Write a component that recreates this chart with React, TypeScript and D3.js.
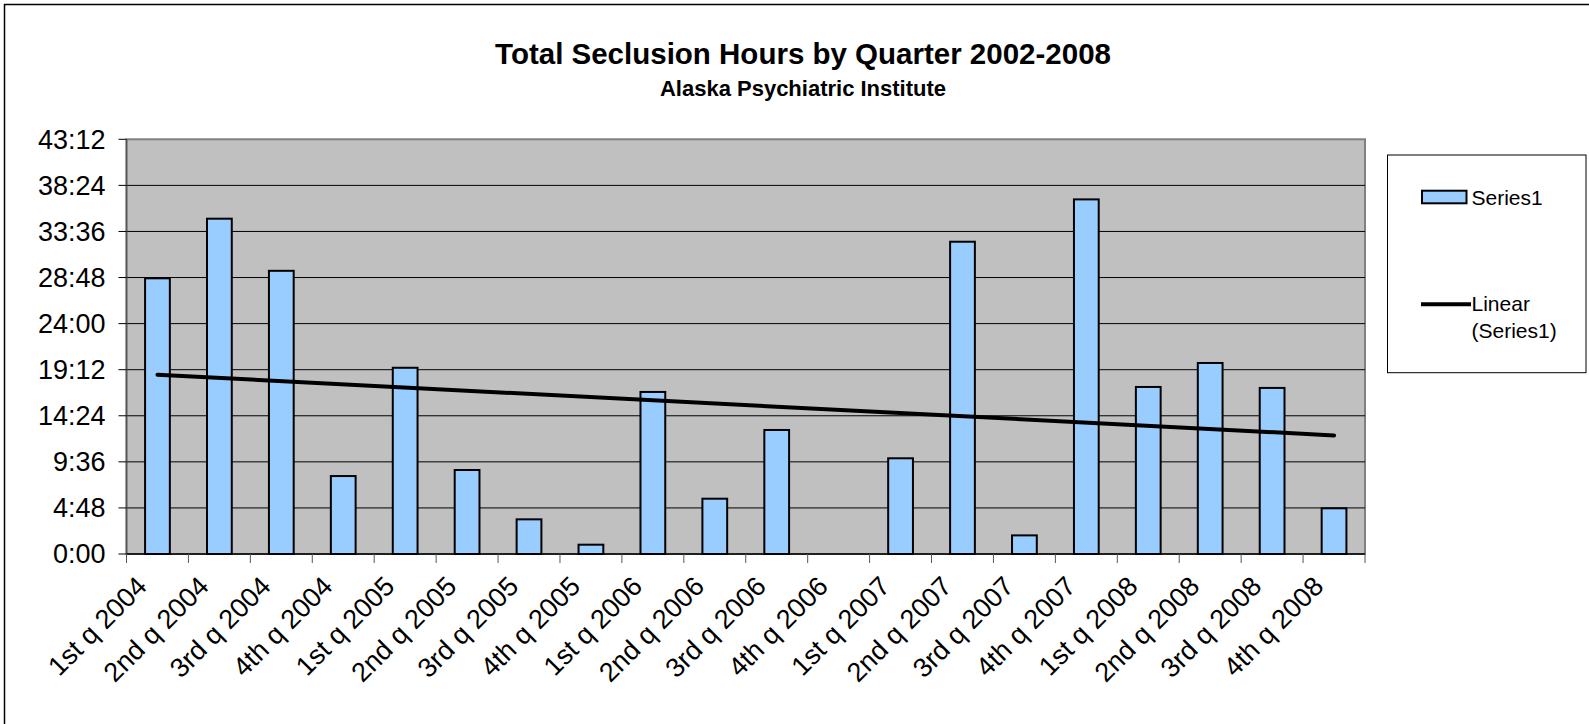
import React from "react";
import * as d3 from "d3";

const categories = [
  "1st q 2004", "2nd q 2004", "3rd q 2004", "4th q 2004",
  "1st q 2005", "2nd q 2005", "3rd q 2005", "4th q 2005",
  "1st q 2006", "2nd q 2006", "3rd q 2006", "4th q 2006",
  "1st q 2007", "2nd q 2007", "3rd q 2007", "4th q 2007",
  "1st q 2008", "2nd q 2008", "3rd q 2008", "4th q 2008",
];
// total seclusion hours (decimal hours)
const hours = [
  28.72, 34.93, 29.5, 8.12,
  19.4, 8.75, 3.61, 0.97,
  16.88, 5.76, 12.92, 0,
  9.97, 32.53, 1.94, 36.94,
  17.4, 19.9, 17.3, 4.76,
];
const yTickValues = [0, 4.8, 9.6, 14.4, 19.2, 24, 28.8, 33.6, 38.4, 43.2];
const yTickLabels = ["0:00", "4:48", "9:36", "14:24", "19:12", "24:00", "28:48", "33:36", "38:24", "43:12"];

const title = "Total Seclusion Hours by Quarter 2002-2008";
const subtitle = "Alaska Psychiatric Institute";
const legendSeries = "Series1";
const legendTrend = ["Linear", "(Series1)"];

const W = 1589;
const H = 724;
const FONT = "Arial, 'Liberation Sans', Helvetica, sans-serif";

export default function App() {
  const left = 126.5, right = 1365, top = 139.3, bottom = 554;
  const x = d3.scaleBand<string>().domain(categories).range([left, right]).paddingInner(0.6).paddingOuter(0.3);
  const y = d3.scaleLinear().domain([0, 43.2]).range([bottom, top]);
  const step = x.step();

  // linear regression trend
  const n = hours.length;
  const xs = d3.range(1, n + 1);
  const mx = d3.mean(xs)!;
  const my = d3.mean(hours)!;
  const sxy = d3.sum(xs, (v, i) => (v - mx) * (hours[i] - my));
  const sxx = d3.sum(xs, (v) => (v - mx) * (v - mx));
  const slope = sxy / sxx;
  const icpt = my - slope * mx;
  const trendPts: [number, number][] = [1, n].map((k) => [
    x(categories[k - 1])! + x.bandwidth() / 2,
    y(icpt + slope * k),
  ]);
  const line = d3.line();

  return (
    <div style={{ position: "absolute", left: 0, top: 0 }}>
      <svg width={W} height={H} style={{ display: "block", fontFamily: FONT }}>
        <rect x={0} y={0} width={W} height={H} fill="#fff" />
        <rect x={4.5} y={4.5} width={W + 20} height={H + 20} fill="#fff" stroke="#000" strokeWidth={1.5} />

        <text x={803} y={64} textAnchor="middle" fontSize={29.5} fontWeight="bold" fill="#000">{title}</text>
        <text x={803} y={96} textAnchor="middle" fontSize={22} fontWeight="bold" fill="#000">{subtitle}</text>

        {/* plot area */}
        <rect x={left} y={top} width={right - left} height={bottom - top} fill="#C0C0C0" stroke="#808080" strokeWidth={2} />
        {yTickValues.slice(1, -1).map((v) => (
          <line key={v} x1={left} x2={right} y1={y(v)} y2={y(v)} stroke="#000" strokeWidth={1} />
        ))}

        {/* bars */}
        {hours.map((v, i) => (
          v > 0 ? (
            <rect key={i} x={x(categories[i])!} y={y(v)} width={x.bandwidth()} height={y(0) - y(v)}
              fill="#99CCFF" stroke="#000" strokeWidth={2} />
          ) : null
        ))}

        {/* trend */}
        <path d={line(trendPts)!} fill="none" stroke="#000" strokeWidth={4} strokeLinecap="round" />

        {/* axes */}
        <line x1={left} x2={left} y1={top} y2={bottom} stroke="#555" strokeWidth={1.5} />
        <line x1={left} x2={right} y1={bottom} y2={bottom} stroke="#000" strokeWidth={1.5} />
        {yTickValues.map((v, i) => (
          <g key={v}>
            <line x1={left - 8} x2={left} y1={y(v)} y2={y(v)} stroke="#000" strokeWidth={1} />
            <text x={105.5} y={y(v)} dy="0.35em" textAnchor="end" fontSize={27} fill="#000">{yTickLabels[i]}</text>
          </g>
        ))}
        {d3.range(0, categories.length + 1).map((k) => (
          <line key={k} x1={left + k * step} x2={left + k * step} y1={bottom} y2={bottom + 9} stroke="#555" strokeWidth={1} />
        ))}
        {categories.map((c) => {
          const cx = x(c)! + x.bandwidth() / 2;
          return (
            <text key={c} transform={`translate(${cx - 9},${bottom + 34}) rotate(-45)`} textAnchor="end" fontSize={27} fill="#000">{c}</text>
          );
        })}

        {/* legend */}
        <rect x={1387.5} y={155} width={198.5} height={217.7} fill="#fff" stroke="#000" strokeWidth={1} />
        <rect x={1422} y={190.7} width={44.5} height={12.6} fill="#99CCFF" stroke="#000" strokeWidth={2} />
        <text x={1471.5} y={205} fontSize={21} fill="#000">{legendSeries}</text>
        <line x1={1421} x2={1471} y1={304.3} y2={304.3} stroke="#000" strokeWidth={4} />
        <text x={1471.5} y={311} fontSize={21} fill="#000">{legendTrend[0]}</text>
        <text x={1471.5} y={338} fontSize={21} fill="#000">{legendTrend[1]}</text>
      </svg>
    </div>
  );
}
